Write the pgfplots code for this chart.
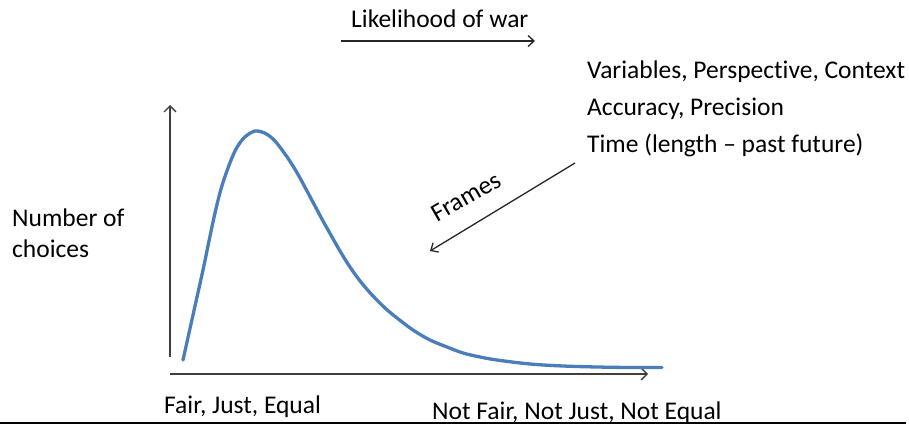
\documentclass[border=0pt]{standalone}
\usepackage{pgfplots}
\pgfplotsset{compat=1.18}
\usepackage{fontspec}
\setmainfont{Carlito}[Ligatures=CommonOff]
\usetikzlibrary{arrows.meta}
\definecolor{curveblue}{HTML}{4A7EBB}
\definecolor{axisgray}{HTML}{3F3F3F}
\begin{document}
\begin{tikzpicture}[every node/.style={inner sep=0pt, font=\fontsize{25.5}{30}\selectfont, text=black}]
\begin{axis}[
  width=909pt, height=425pt, scale only axis,
  xmin=0, xmax=909, ymin=0, ymax=425, y dir=reverse,
  hide axis, clip=false,
]
% axes
\draw[axisgray, line width=1.4pt, -{Straight Barb[length=6pt,width=12pt]}] (axis cs:170,357) -- (axis cs:170,105);
\draw[axisgray, line width=1.4pt, -{Straight Barb[length=6pt,width=12pt]}] (axis cs:170,374) -- (axis cs:648,374);
% curve
\addplot[curveblue, line width=3.3pt, smooth, tension=0.55, line cap=round] coordinates {
(183,360) (193,315) (203,270) (209,241) (215,213) (221,189) (228,168) (235,151)
(242,140) (248,134.5) (255,131) (262,132) (268,135) (275,141) (285,154) (293,166)
(300,178) (307,191) (315,206) (323,221) (332,237) (340,251) (348,264) (357,277)
(365,287) (373,296) (385,308) (397,318) (413,330) (430,340) (447,347) (463,353)
(480,357) (497,360) (530,364) (563,366) (597,367) (630,367.5) (662,367.5)
};
% top arrow and label
\draw[black!85, line width=1.3pt, -{Straight Barb[length=6pt,width=11pt]}] (axis cs:341,41) -- (axis cs:535,41);
\node[anchor=base west] at (axis cs:351,28) {Likelihood of war};
% frames arrow
\draw[black!85, line width=1.3pt, -{Straight Barb[length=6pt,width=11pt]}] (axis cs:575,163) -- (axis cs:430,251);
\node[rotate=30] at (axis cs:466,197) {Frames};
% right text
\node[anchor=base west] at (axis cs:587,79) {Variables, Perspective, Context};
\node[anchor=base west] at (axis cs:587,115) {Accuracy, Precision};
\node[anchor=base west] at (axis cs:587,152) {Time (length -- past future)};
% y label
\node[anchor=base west] at (axis cs:12,226) {Number of};
\node[anchor=base west] at (axis cs:12,257) {choices};
% x labels
\node[anchor=base west] at (axis cs:164,413) {Fair, Just, Equal};
\node[anchor=base west] at (axis cs:432,419) {Not Fair, Not Just, Not Equal};
% bottom rule
\draw[black, line width=2pt] (axis cs:0,422.5) -- (axis cs:906,422.5);
\end{axis}
\pgfresetboundingbox
\path (current axis.south west) rectangle (current axis.north east);
\end{tikzpicture}
\end{document}
